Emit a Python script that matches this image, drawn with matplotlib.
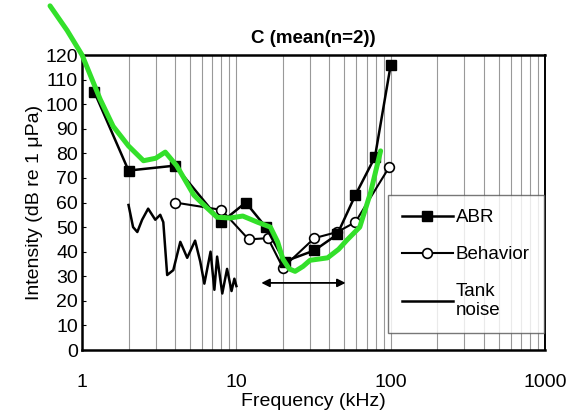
import matplotlib
matplotlib.use("Agg")
import matplotlib.pyplot as plt
from matplotlib.ticker import LogLocator, NullFormatter, FixedLocator

plt.rcParams['font.family'] = ['Liberation Sans', 'DejaVu Sans']

# ABR thresholds (filled squares)
abr_freq = [1.2, 2, 4, 8, 11.5, 15.5, 20.5, 32, 45, 59, 79, 100]
abr_db = [105, 73, 75, 52, 60, 50, 36, 40.5, 47, 63, 78.5, 116]

# Behavioural thresholds (open circles)
beh_freq = [4, 8, 12, 16, 20, 32, 45, 59, 98]
beh_db = [60, 57, 45, 45.5, 33.5, 45.5, 48, 52, 74.5]

# Tank noise
tank_freq = [2.0, 2.14, 2.28, 2.45, 2.68, 2.98, 3.21, 3.36, 3.56, 3.9, 4.33,
             4.8, 5.4, 5.83, 6.2, 6.8, 7.2, 7.5, 8.1, 8.7, 9.3, 9.7, 10]
tank_db = [59, 50, 48, 53, 57.5, 53, 55, 52, 30.5, 32.5, 44, 37.5, 44.5, 36,
           27, 40, 24.5, 38, 23, 33, 24, 29, 26]

# Green overlay curve
green_freq = [0.62, 0.8, 1.0, 1.31, 1.59, 2.0, 2.5, 3.0, 3.46, 4.1, 5.3, 6.4,
              7.5, 9.1, 11, 13.7, 16.6, 18.5, 20, 22, 24, 27, 30, 39, 46, 52,
              63, 74, 86]
green_db = [140, 130, 120, 102, 91, 83, 77, 78, 80.5, 75, 63, 58, 54, 53.7,
            54.5, 52, 50, 44, 37, 33, 32, 34, 36.5, 37.5, 41, 44.7, 50, 64, 81]

# double arrow span (kHz) and level
arrow_span = (14.5, 51)
arrow_db = 27.3

fig = plt.figure(figsize=(5.66, 4.13), dpi=100)
ax = fig.add_axes([0.145, 0.1525, 0.818, 0.7143])

ax.set_xscale('log')
ax.set_xlim(1, 1000)
ax.set_ylim(0, 120)

# vertical log grid lines
ax.xaxis.set_major_locator(FixedLocator([1, 10, 100, 1000]))
ax.xaxis.set_minor_locator(LogLocator(base=10, subs=range(2, 10)))
ax.xaxis.set_minor_formatter(NullFormatter())
ax.set_xticklabels(['1', '10', '100', '1000'])
ax.grid(True, which='both', axis='x', color='#999999', lw=0.8)
ax.set_yticks(range(0, 121, 10))
ax.tick_params(axis='x', which='both', length=0, labelsize=14, pad=17)
ax.tick_params(axis='y', direction='in', length=3, labelsize=14, pad=3)

for s in ax.spines.values():
    s.set_linewidth(1.8)
ax.spines['right'].set_linewidth(1.4)

ax.plot(tank_freq, tank_db, color='black', lw=1.8, label='Tank\nnoise',
        zorder=3, solid_joinstyle='round')
ax.plot(beh_freq, beh_db, color='black', lw=1.5, marker='o', ms=7,
        mfc='white', mec='black', mew=1.2, label='Behavior', zorder=4,
        solid_joinstyle='round')
ax.plot(abr_freq, abr_db, color='black', lw=1.8, marker='s', ms=7.5,
        mfc='black', mec='black', label='ABR', zorder=5, solid_joinstyle='round')
ax.plot(green_freq, green_db, color='#33e02a', lw=3.6, zorder=6,
        clip_on=False, solid_capstyle='round', solid_joinstyle='round')

ax.annotate('', xy=(arrow_span[0], arrow_db), xytext=(arrow_span[1], arrow_db),
            arrowprops=dict(arrowstyle='<|-|>', color='black', lw=1.3,
                            mutation_scale=12, shrinkA=0, shrinkB=0), zorder=5)

h, l = ax.get_legend_handles_labels()
order = [2, 1, 0]
leg = ax.legend([h[i] for i in order], [l[i] for i in order],
                loc='upper left', bbox_to_anchor=(0.661, 0.525),
                fontsize=13.5, frameon=True, fancybox=False, edgecolor='#555555',
                handlelength=2.7, handletextpad=0.15, labelspacing=1.05,
                borderpad=0.75, borderaxespad=0)
leg.get_frame().set_linewidth(1.0)
leg.set_zorder(7)

ax.set_title('C (mean(n=2))', fontsize=13.5, fontweight='bold', pad=9)
ax.set_xlabel('Frequency (kHz)', fontsize=14, labelpad=2)
ax.set_ylabel('Intensity (dB re 1 \u03bcPa)', fontsize=14, labelpad=2)

fig.savefig('out.png', dpi=100)
